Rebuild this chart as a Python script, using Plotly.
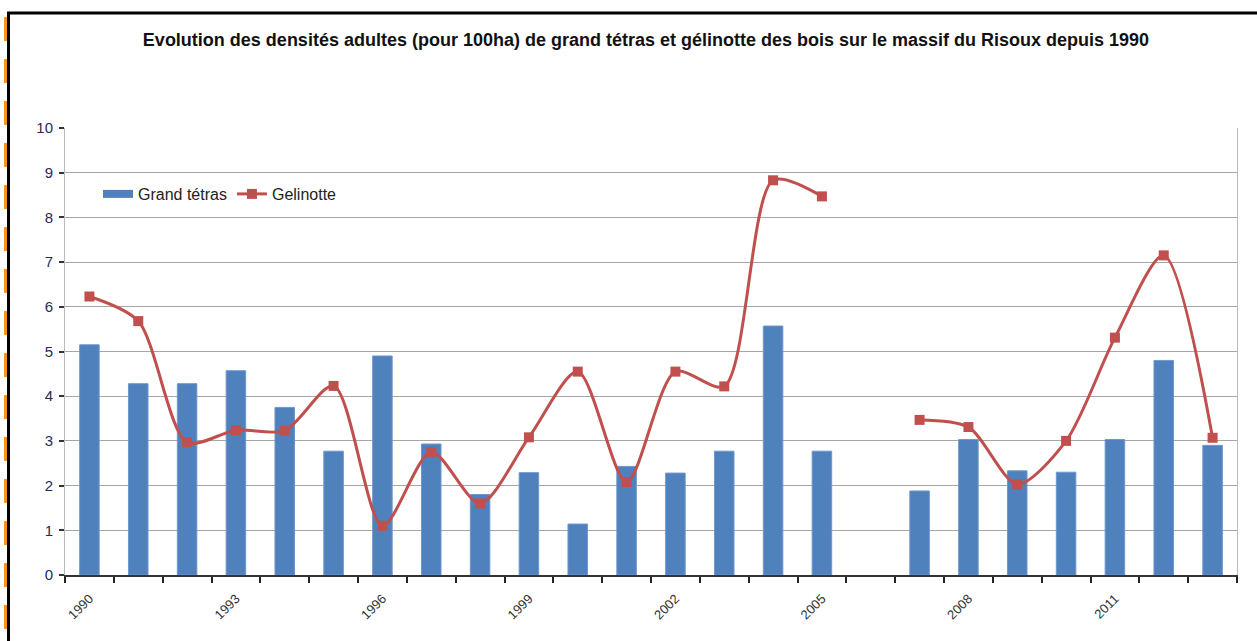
import plotly.graph_objects as go

years = list(range(1990, 2014))
grand_tetras = [5.15, 4.28, 4.28, 4.57, 3.75, 2.77, 4.9, 2.93, 1.8, 2.29, 1.14, 2.43,
                2.28, 2.77, 5.57, 2.77, None, 1.88, 3.03, 2.33, 2.3, 3.03, 4.8, 2.9]
gelinotte = [6.23, 5.68, 2.97, 3.24, 3.23, 4.23, 1.1, 2.75, 1.6, 3.08, 4.55, 2.08,
             4.55, 4.22, 8.83, 8.47, None, 3.47, 3.31, 2.03, 3.0, 5.31, 7.15, 3.07]
label_years = [1990, 1993, 1996, 1999, 2002, 2005, 2008, 2011]
title_text = ("Evolution des densités adultes (pour 100ha) de grand tétras et gélinotte "
              "des bois sur le massif du Risoux depuis 1990")

W, H = 1257, 641
L, R, T, B = 65, 20, 128, 66
pw, ph = W - L - R, H - T - B

BLUE = "#4F81BD"
RED = "#C0504D"

def px_x(x):
    return (x - L) / pw

def px_y(y):
    return (H - B - y) / ph

fig = go.Figure()
fig.add_trace(go.Bar(x=years, y=grand_tetras, name="Grand tétras", width=0.4,
                     showlegend=False,
                     marker=dict(color=BLUE, line=dict(color="#6E98CC", width=1))))
# legend entry for the bars (wide rectangular swatch as in the original)
fig.add_trace(go.Scatter(x=[None], y=[None], name="Grand tétras", mode="lines",
                         line=dict(color=BLUE, width=8), hoverinfo="skip"))
fig.add_trace(go.Scatter(x=years, y=gelinotte, name="Gelinotte", mode="lines+markers",
                         line=dict(color=RED, width=3, shape="spline", smoothing=0.8),
                         marker=dict(symbol="square", size=10, color=RED),
                         connectgaps=False))

shapes = [
    dict(type="line", xref="paper", yref="paper", x0=px_x(8.5), x1=px_x(8.5),
         y0=px_y(12), y1=px_y(H + 5), line=dict(color="black", width=3)),
    dict(type="line", xref="paper", yref="paper", x0=px_x(7), x1=px_x(W + 5),
         y0=px_y(13), y1=px_y(13), line=dict(color="black", width=3)),
    dict(type="line", xref="paper", yref="paper", x0=px_x(5.5), x1=px_x(5.5),
         y0=px_y(17), y1=px_y(H + 5), line=dict(color="#F7941D", width=3, dash="24px,18px")),
]

fig.update_layout(
    width=W, height=H,
    margin=dict(l=L, r=R, t=T, b=B),
    paper_bgcolor="white", plot_bgcolor="white",
    font=dict(family="Liberation Sans, Arial, sans-serif", color="#222"),
    title=dict(text="<b>" + title_text + "</b>", x=646 / W, xanchor="center",
               y=1 - 40 / H, yanchor="middle",
               font=dict(size=18, color="#111")),
    showlegend=True,
    legend=dict(orientation="h", x=px_x(98), y=px_y(194), xanchor="left", yanchor="middle",
                bgcolor="rgba(0,0,0,0)", font=dict(size=16, color="#222"),
                tracegroupgap=0),
    bargap=0.6,
    shapes=shapes,
)

fig.update_xaxes(
    range=[years[0] - 0.5, years[-1] + 0.5],
    tickmode="array", tickvals=label_years, ticktext=[str(y) for y in label_years],
    tickangle=-45, ticks="", ticklabelstandoff=9,
    tickfont=dict(size=13, color="#333"),
    showgrid=False, zeroline=False,
    showline=True, linecolor="#333", linewidth=2,
    minor=dict(tickmode="array", tickvals=[y - 0.5 for y in years] + [years[-1] + 0.5],
               ticks="outside", ticklen=6, tickwidth=1.5, tickcolor="#222", showgrid=False),
)
fig.update_yaxes(
    range=[0, 10], dtick=1, tick0=0,
    showgrid=True, gridcolor="#A6A6A6", gridwidth=1,
    zeroline=False,
    showline=True, linecolor="#BBBBBB", linewidth=1, mirror=True,
    ticks="outside", ticklen=5, tickcolor="#333", tickwidth=2,
    tickfont=dict(size=15, color="#2A2A55"),
    ticklabelstandoff=3,
)

fig.write_html("out.html", config={"displayModeBar": False},
               post_script="document.body.style.margin='0px';document.body.style.padding='0px';")
